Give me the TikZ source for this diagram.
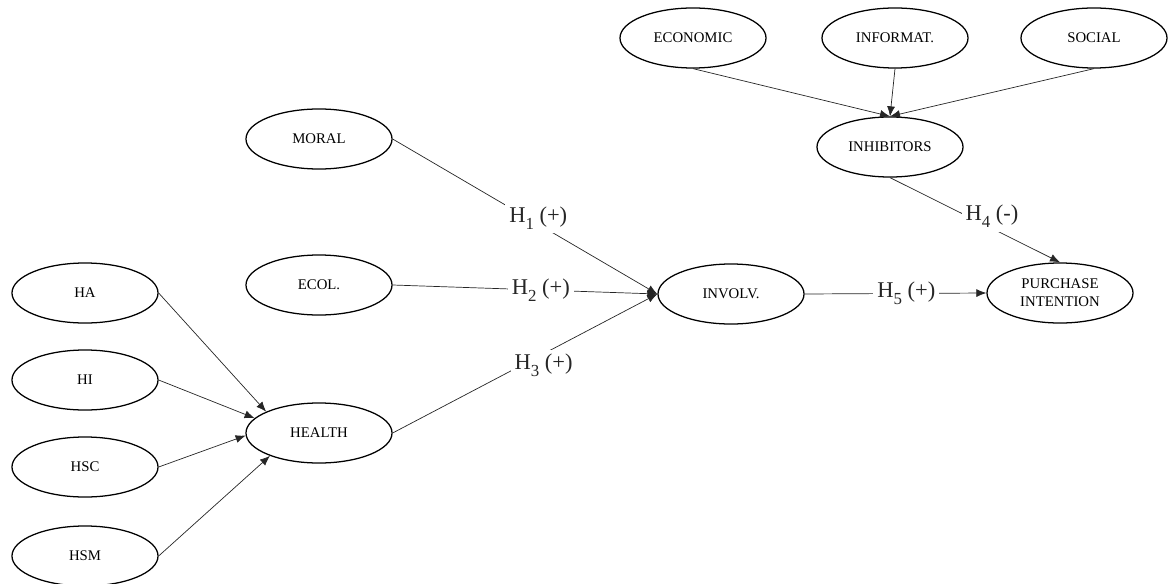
\documentclass[tikz,border=0pt]{standalone}
\usepackage{fontspec}
\setmainfont{Liberation Serif}
\usetikzlibrary{arrows.meta}
\usetikzlibrary{shapes.geometric}
\tikzset{latent/.style = {ellipse, draw, line width=0.9pt,
                          minimum width=3.65cm, minimum height=1.5cm,
                          inner sep=0pt, align=center,
                          font=\fontsize{10.5}{12.8}\selectfont},
         conn/.style = {line width=0.5pt, black!85},
         arr/.style = {-{Latex[length=2.5mm, width=2mm]}},
         hyplabel/.style = {fill=white, inner sep=0.1cm,
                            font=\fontsize{16}{18}\selectfont}}
\newcommand{\hyp}[2]{H\raisebox{-0.3em}{\fontsize{12}{12}\selectfont #1}\ (#2)}

\begin{document}
\begin{tikzpicture}[x=0.025cm, y=-0.025cm]
    \useasboundingbox (0, 0) rectangle (1168, 584);

    \node [latent] (ha) at (85, 293) {HA};
    \node [latent] (hi) at (85, 380) {HI};
    \node [latent] (hsc) at (85, 467) {HSC};
    \node [latent] (hsm) at (85, 556) {HSM};
    \node [latent] (health) at (319, 433) {HEALTH};

    \node [latent] (moral) at (319, 139) {MORAL};
    \node [latent] (ecol) at (319, 285) {ECOL.};
    \node [latent] (involv) at (731, 294) {INVOLV.};
    \node [latent] (purchase) at (1060, 293) {PURCHASE\\INTENTION};

    \node [latent] (economic) at (693, 38) {ECONOMIC};
    \node [latent] (informat) at (895, 38) {INFORMAT.};
    \node [latent] (social) at (1094, 38) {SOCIAL};
    \node [latent] (inhibitors) at (890, 147) {INHIBITORS};

    \draw [conn, arr] (ha.east) -- (health.158);
    \draw [conn, arr] (hi.east) -- (health.167);
    \draw [conn, arr] (hsc.east) -- (health.182);
    \draw [conn, arr] (hsm.east) -- (health.205);

    \draw [conn, arr] (economic.south) -- (inhibitors.north);
    \draw [conn, arr] (informat.south) -- (inhibitors.north);
    \draw [conn, arr] (social.south) -- (inhibitors.north);

    \draw [conn, arr] (moral.east) -- node [hyplabel, pos=0.55, yshift=0.15cm] (h1) {\hyp{1}{+}} (involv.west);
    \draw [conn, arr] (ecol.east) -- node [hyplabel, pos=0.56] (h2) {\hyp{2}{+}} (involv.west);
    \draw [conn, arr] (health.east) -- node [hyplabel, pos=0.57, yshift=-0.28cm] (h3) {\hyp{3}{+}} (involv.west);
    \draw [conn, arr] (inhibitors.south) -- node [hyplabel, pos=0.6, yshift=0.3cm] (h4) {\hyp{4}{-}} (purchase.north);
    \draw [conn, arr] (involv.east) -- node [hyplabel, pos=0.56] (h5) {\hyp{5}{+}} (purchase.west);
  \end{tikzpicture}
\end{document}
